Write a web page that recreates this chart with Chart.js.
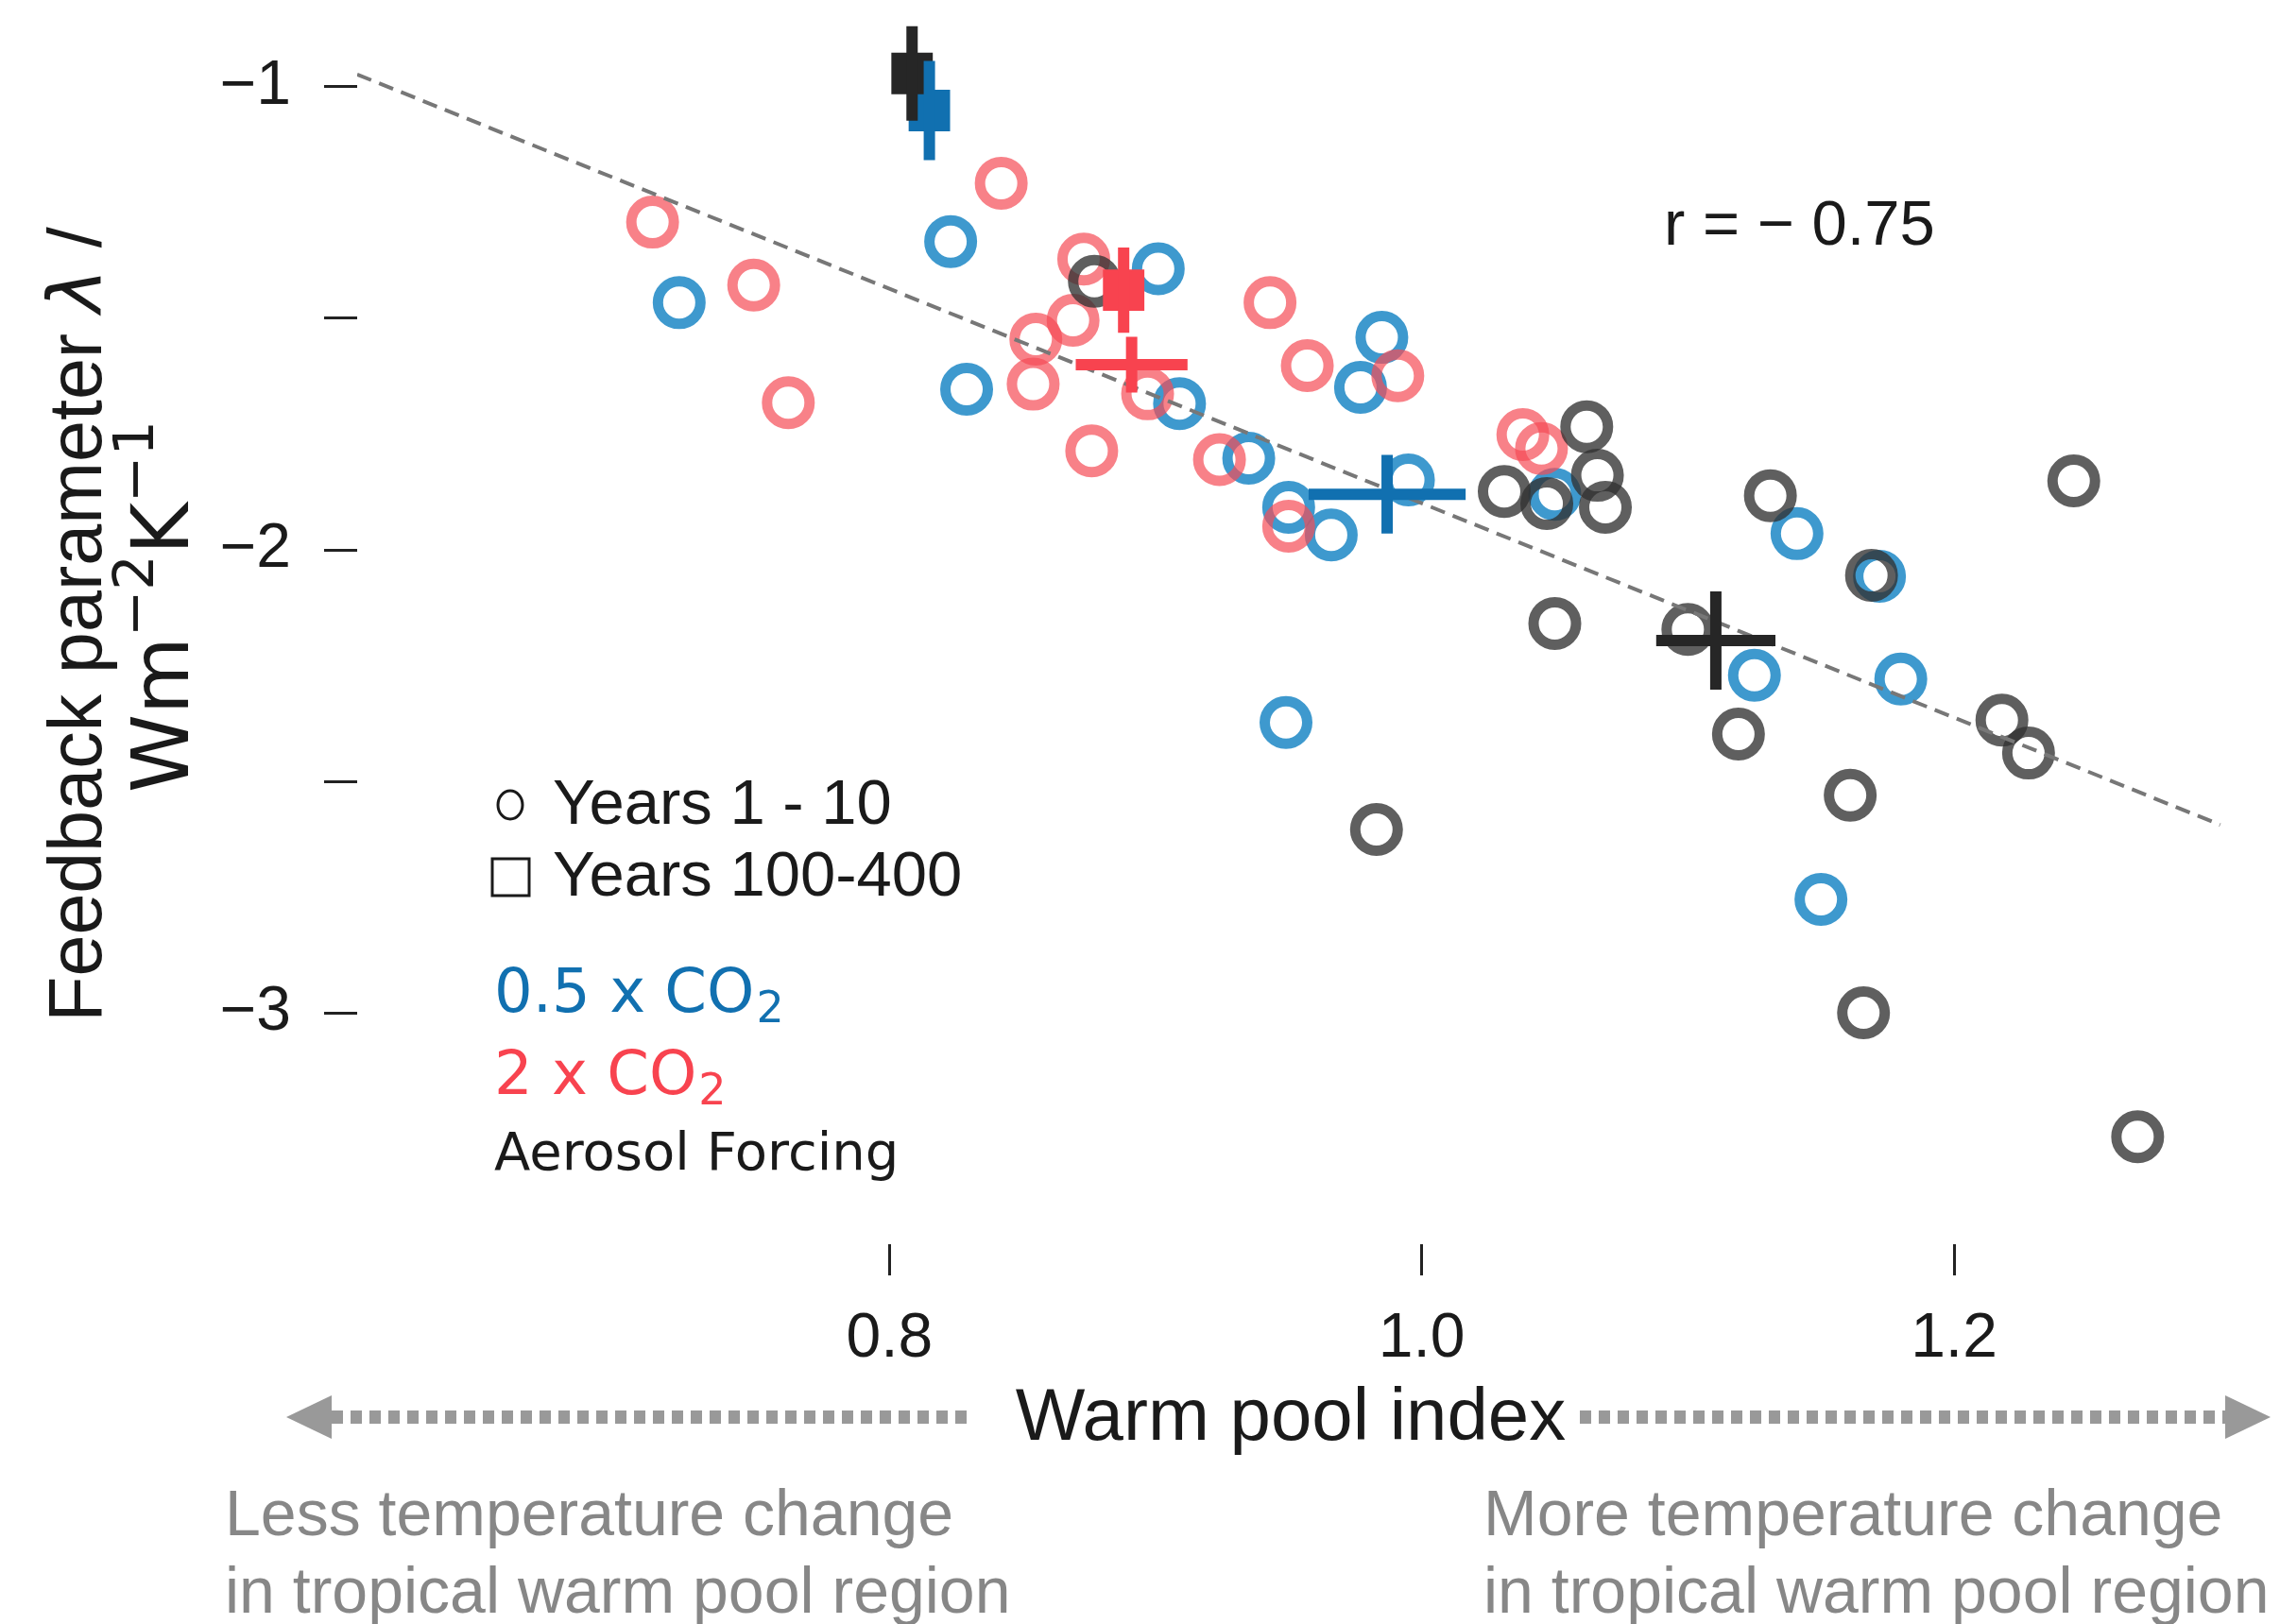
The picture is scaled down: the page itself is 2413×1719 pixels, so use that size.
<!DOCTYPE html>
<html lang="en">
  <head>
    <meta charset="UTF-8" />
    <title>Feedback parameter vs warm pool index</title>
    <script src="https://cdn.jsdelivr.net/npm/chart.js"></script>
    <style>
      html, body { margin: 0; padding: 0; background: #fff; }
      #wrap { width: 2413px; height: 1719px; }
    </style>
  </head>
  <body>
    <div id="wrap"><canvas id="feedbackChart"></canvas></div>

    <script>
      // axis ticks
      const xTicks = [0.8, 1.0, 1.2];
      const yTicks = [-3, -2.5, -2, -1.5, -1];

      // years 1 - 10, one [warm pool index, feedback] pair per run
      const halfCo2Early = [
        [0.721, -1.466], [0.823, -1.334], [0.829, -1.653], [0.901, -1.393],
        [0.909, -1.684], [0.935, -1.802], [0.985, -1.541], [0.977, -1.649],
        [0.995, -1.849], [0.950, -1.908], [0.966, -1.968], [1.050, -1.880],
        [1.141, -1.965], [1.172, -2.057], [0.949, -2.373], [1.125, -2.271],
        [1.180, -2.279], [1.150, -2.755]
      ];
      const doubleCo2Early = [
        [0.711, -1.292], [0.749, -1.428], [0.762, -1.682], [0.842, -1.208],
        [0.873, -1.372], [0.869, -1.504], [0.855, -1.545], [0.854, -1.642],
        [0.876, -1.786], [0.897, -1.663], [0.924, -1.805], [0.943, -1.466],
        [0.957, -1.602], [0.991, -1.624], [0.950, -1.949], [1.038, -1.751],
        [1.045, -1.781]
      ];
      const aerosolEarly = [
        [0.877, -1.420], [1.062, -1.734], [1.066, -1.839], [1.031, -1.874],
        [1.047, -1.900], [1.069, -1.908], [1.131, -1.883], [1.245, -1.851],
        [1.169, -2.055], [1.050, -2.159], [1.100, -2.172], [1.119, -2.398],
        [1.218, -2.368], [1.228, -2.439], [1.161, -2.530], [0.983, -2.604],
        [1.166, -3.000], [1.269, -3.268]
      ];

      // years 100-400 : [x, y, y error]
      const halfCo2Late = [0.815, -1.051, 0.107];
      const doubleCo2Late = [0.888, -1.439, 0.092];
      const aerosolLate = [0.8085, -0.971, 0.102];

      // mean of years 1 - 10 : [x, y, x error, y error]
      const halfCo2Mean = [0.987, -1.880, 0.0295, 0.085];
      const doubleCo2Mean = [0.891, -1.600, 0.021, 0.06];
      const aerosolMean = [1.1105, -2.196, 0.0224, 0.106];

      // regression line end points
      const fitX = [0.6, 1.3];
      const fitY = [-0.973, -2.594];

      const blueRing = "rgba(20,130,195,0.82)";
      const redRing = "rgba(245,75,85,0.7)";
      const greyRing = "rgba(50,50,50,0.78)";
      const blueSolid = "#1170b0";
      const redSolid = "#f8434f";
      const blackSolid = "#262626";

      function toPoints(pairs) {
        return pairs.map((p) => ({ x: p[0], y: p[1] }));
      }

      function circles(pairs, color, order) {
        return {
          data: toPoints(pairs),
          pointStyle: "circle",
          pointRadius: 22.5,
          pointBorderWidth: 11,
          pointBorderColor: color,
          pointBackgroundColor: "rgba(0,0,0,0)",
          order: order,
        };
      }

      // one error bar segment, drawn as a two point line
      function segment(x1, y1, x2, y2, color) {
        return {
          data: [{ x: x1, y: y1 }, { x: x2, y: y2 }],
          showLine: true,
          borderColor: color,
          borderWidth: 12,
          borderCapStyle: "butt",
          pointRadius: 0,
          order: 0,
        };
      }

      function square(p, color) {
        return [
          segment(p[0], p[1] - p[2], p[0], p[1] + p[2], color),
          {
            data: [{ x: p[0], y: p[1] }],
            pointStyle: "rect",
            pointRadius: 31,
            pointBorderWidth: 0,
            pointBackgroundColor: color,
            order: 1,
          },
        ];
      }

      function cross(p, color) {
        return [
          segment(p[0] - p[2], p[1], p[0] + p[2], p[1], color),
          segment(p[0], p[1] - p[3], p[0], p[1] + p[3], color),
        ];
      }

      const datasets = [
        ...cross(halfCo2Mean, blueSolid),
        ...cross(doubleCo2Mean, redSolid),
        ...cross(aerosolMean, blackSolid),
        ...square(aerosolLate, blackSolid),
        ...square(halfCo2Late, blueSolid),
        ...square(doubleCo2Late, redSolid),
        {
          data: [{ x: fitX[0], y: fitY[0] }, { x: fitX[1], y: fitY[1] }],
          showLine: true,
          borderColor: "#777",
          borderWidth: 4,
          borderDash: [16, 9],
          pointRadius: 0,
          order: 1.5,
        },
        circles(aerosolEarly, greyRing, 2),
        circles(doubleCo2Early, redRing, 3),
        circles(halfCo2Early, blueRing, 4),
      ];

      function txt(ctx, s, x, y, font, color, align) {
        ctx.font = font;
        ctx.fillStyle = color;
        ctx.textAlign = align || "left";
        ctx.textBaseline = "alphabetic";
        ctx.fillText(s, x, y);
      }

      // text with a subscript 2 at the end (CO2)
      function txtSub(ctx, s, x, y, size, color) {
        txt(ctx, s, x, y, size + 'px "DejaVu Sans"', color);
        const w = ctx.measureText(s).width;
        txt(ctx, "2", x + w + 2, y + 11, Math.round(size * 0.72) + 'px "DejaVu Sans"', color);
      }

      // a row of pieces [text, font, y shift], centred on 0
      function txtRow(ctx, parts, color) {
        let total = 0;
        parts.forEach((p) => {
          ctx.font = p[1];
          total += ctx.measureText(p[0]).width;
        });
        let px = -total / 2;
        parts.forEach((p) => {
          txt(ctx, p[0], px, p[2], p[1], color);
          px += ctx.measureText(p[0]).width;
        });
      }

      function dottedArrow(ctx, x1, x2, tipX, y) {
        ctx.strokeStyle = "#999";
        ctx.fillStyle = "#999";
        ctx.lineWidth = 14;
        ctx.setLineDash([12, 8]);
        ctx.beginPath();
        ctx.moveTo(x1, y);
        ctx.lineTo(x2, y);
        ctx.stroke();
        ctx.setLineDash([]);
        const baseX = tipX < x1 ? x1 : x2;
        ctx.beginPath();
        ctx.moveTo(tipX, y);
        ctx.lineTo(baseX, y - 23);
        ctx.lineTo(baseX, y + 23);
        ctx.closePath();
        ctx.fill();
      }

      const annotations = {
        id: "annotations",
        afterDraw(chart) {
          const ctx = chart.ctx;
          ctx.save();

          // y axis title, two rotated lines
          ctx.save();
          ctx.translate(107, 661);
          ctx.rotate(-Math.PI / 2);
          txtRow(ctx, [
            ["Feedback parameter ", '79px "Liberation Sans"', 0],
            ["\u03bb", 'italic 79px "DejaVu Sans"', 0],
            [" /", '79px "Liberation Sans"', 0],
          ], "#1a1a1a");
          ctx.restore();

          ctx.save();
          ctx.translate(199, 642);
          ctx.rotate(-Math.PI / 2);
          txtRow(ctx, [
            ["Wm", '84px "DejaVu Sans"', 0],
            ["\u22122", '59px "DejaVu Sans"', -37],
            ["K", '84px "DejaVu Sans"', 0],
            ["\u22121", '59px "DejaVu Sans"', -37],
          ], "#1a1a1a");
          ctx.restore();

          // correlation
          txt(ctx, "r = \u2212 0.75", 1761, 259, '67px "Liberation Sans"', "#1a1a1a");

          // legend
          ctx.strokeStyle = "#1a1a1a";
          ctx.lineWidth = 3;
          ctx.beginPath();
          ctx.ellipse(540, 852, 13, 15, 0, 0, Math.PI * 2);
          ctx.stroke();
          ctx.strokeRect(521, 909, 39, 39);
          txt(ctx, "Years 1 - 10", 585, 872, '67px "Liberation Sans"', "#1a1a1a");
          txt(ctx, "Years 100-400", 585, 948, '67px "Liberation Sans"', "#1a1a1a");
          txtSub(ctx, "0.5 x CO", 523, 1071, 64, "#1170b0");
          txtSub(ctx, "2 x CO", 523, 1158, 64, "#f8434f");
          txt(ctx, "Aerosol Forcing", 523, 1238, '56px "DejaVu Sans"', "#1a1a1a");

          // x axis title with arrows
          txt(ctx, "Warm pool index", 1366, 1524, '78px "Liberation Sans"', "#1a1a1a", "center");
          dottedArrow(ctx, 351, 1031, 303, 1500);
          dottedArrow(ctx, 1672, 2355, 2403, 1500);

          const grey = "#878787";
          txt(ctx, "Less temperature change", 238, 1625, '68px "Liberation Sans"', grey);
          txt(ctx, "in tropical warm pool region", 238, 1707, '68px "Liberation Sans"', grey);
          txt(ctx, "More temperature change", 1570, 1625, '68px "Liberation Sans"', grey);
          txt(ctx, "in tropical warm pool region", 1570, 1707, '68px "Liberation Sans"', grey);

          ctx.restore();
        },
      };

      const ctx = document.getElementById("feedbackChart").getContext("2d");
      const feedbackChart = new Chart(ctx, {
        type: "scatter",
        data: { datasets: datasets },
        plugins: [annotations],
        options: {
          responsive: true,
          maintainAspectRatio: false,
          animation: false,
          events: [],
          layout: {
            autoPadding: false,
            padding: { top: 18.5, right: 7, bottom: 0, left: 0 },
          },
          plugins: {
            legend: { display: false },
            tooltip: { enabled: false },
          },
          scales: {
            x: {
              type: "linear",
              min: 0.6,
              max: 1.32,
              afterBuildTicks: (s) => {
                s.ticks = xTicks.map((v) => ({ value: v }));
              },
              afterFit: (s) => {
                s.height = 402;
                s.paddingLeft = 0;
                s.paddingRight = 0;
              },
              border: { display: false },
              grid: {
                drawOnChartArea: false,
                drawTicks: true,
                tickLength: 33,
                tickWidth: 3,
                tickColor: "#222",
              },
              ticks: {
                font: { family: "Liberation Sans", size: 66 },
                color: "#1a1a1a",
                padding: 28,
                maxRotation: 0,
                callback: (v) => v.toFixed(1),
              },
            },
            y: {
              type: "linear",
              min: -3.5,
              max: -0.85,
              afterBuildTicks: (s) => {
                s.ticks = yTicks.map((v) => ({ value: v }));
              },
              afterFit: (s) => {
                s.width = 378;
                s.paddingTop = 0;
                s.paddingBottom = 0;
              },
              border: { display: false },
              grid: {
                drawOnChartArea: false,
                drawTicks: true,
                tickLength: 35,
                tickWidth: 3,
                tickColor: "#222",
              },
              ticks: {
                font: { family: "Liberation Sans", size: 66 },
                color: "#1a1a1a",
                padding: 35,
                callback: (v) => (Number.isInteger(v) ? "\u2212" + Math.abs(v) : ""),
              },
            },
          },
        },
      });
    </script>
  </body>
</html>
